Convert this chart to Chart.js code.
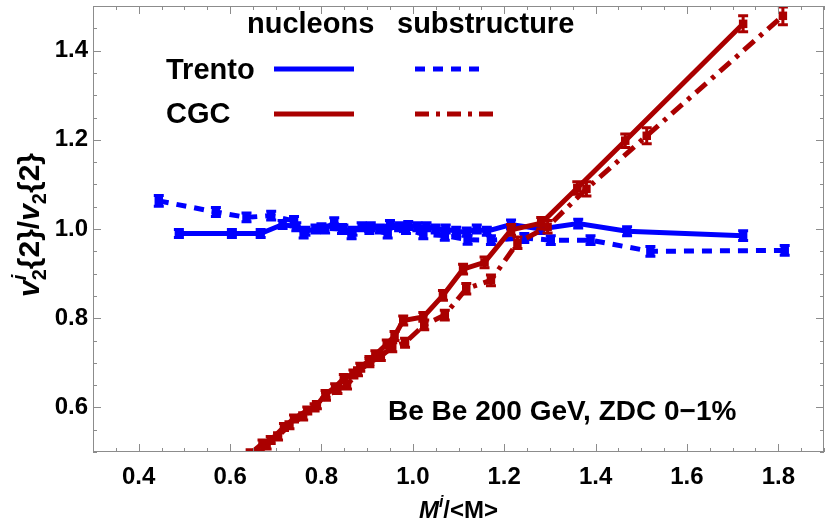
<!DOCTYPE html>
<html><head><meta charset="utf-8">
<script src="https://cdn.jsdelivr.net/npm/chart.js@4/dist/chart.umd.min.js"></script>
<style>html,body{margin:0;padding:0;background:#fff}#wrap{width:830px;height:527px}</style>
</head><body><div id="wrap"><canvas id="c" width="830" height="527"></canvas></div>
<script>
// ---- data ----
const trentoNucX = [0.488,0.604,0.667,0.715,0.745,0.765,0.787,0.808,0.828,0.848,0.868,0.888,0.908,0.928,0.950,0.970,0.990,1.010,1.030,1.050,1.072,1.095,1.118,1.140,1.162,1.215,1.280,1.362,1.469,1.723];
const trentoNucY = [0.990,0.990,0.990,1.010,1.005,0.995,1.000,1.000,1.015,1.000,0.995,1.005,1.005,1.000,1.010,1.005,1.008,1.005,1.005,1.000,1.000,0.995,0.993,1.000,0.995,1.010,1.000,1.012,0.995,0.985];
const trentoNucErr = [0.009,0.009,0.009,0.009,0.009,0.009,0.009,0.009,0.010,0.009,0.009,0.009,0.009,0.009,0.009,0.009,0.009,0.009,0.009,0.009,0.009,0.009,0.009,0.009,0.009,0.010,0.010,0.010,0.010,0.011];

const trentoSubX = [0.444,0.569,0.636,0.690,0.740,0.761,0.800,0.845,0.866,0.905,0.945,0.985,1.023,1.070,1.120,1.171,1.244,1.302,1.389,1.520,1.814];
const trentoSubY = [1.063,1.038,1.026,1.030,1.018,0.990,1.002,1.000,0.988,1.000,0.990,1.000,0.988,0.985,0.976,0.975,0.980,0.975,0.975,0.950,0.952];
const trentoSubErr = [0.012,0.010,0.010,0.010,0.010,0.010,0.010,0.010,0.010,0.010,0.010,0.010,0.010,0.010,0.010,0.010,0.010,0.010,0.010,0.011,0.011];

const cgcNucX = [0.645,0.671,0.689,0.718,0.740,0.769,0.790,0.809,0.830,0.849,0.870,0.885,0.905,0.918,0.943,0.960,0.979,1.023,1.066,1.110,1.157,1.215,1.281,1.360,1.465,1.723];
const cgcNucY = [0.497,0.519,0.527,0.556,0.575,0.593,0.605,0.630,0.645,0.665,0.675,0.690,0.705,0.718,0.742,0.760,0.795,0.803,0.851,0.910,0.925,0.998,1.013,1.092,1.198,1.460];
const cgcNucErr = [0.008,0.008,0.008,0.008,0.008,0.008,0.008,0.008,0.008,0.009,0.009,0.009,0.009,0.009,0.009,0.010,0.010,0.010,0.011,0.011,0.012,0.012,0.013,0.014,0.015,0.018];

const cgcSubX = [0.660,0.680,0.705,0.730,0.760,0.785,0.810,0.835,0.856,0.880,0.905,0.930,0.955,0.983,1.025,1.070,1.117,1.171,1.229,1.295,1.380,1.512,1.810];
const cgcSubY = [0.495,0.515,0.535,0.560,0.580,0.600,0.625,0.640,0.650,0.680,0.700,0.715,0.735,0.745,0.785,0.807,0.866,0.885,0.969,1.005,1.090,1.209,1.478];
const cgcSubErr = [0.008,0.008,0.008,0.008,0.008,0.008,0.009,0.009,0.009,0.009,0.009,0.010,0.010,0.010,0.011,0.011,0.012,0.012,0.013,0.014,0.016,0.018,0.020];

const xTickLabels = [0.4,0.6,0.8,1.0,1.2,1.4,1.6,1.8];
const yTickLabels = [0.6,0.8,1.0,1.2,1.4];
const legendHeaders = ["nucleons","substructure"];
const legendRows = ["Trento","CGC"];
const annotationText = "Be Be 200 GeV, ZDC 0\u22121%";

// ---- styling ----
const BLUE = "rgb(0,0,255)";
const RED = "rgb(170,0,0)";
const FRAME = "#8c8c8c";
const FONT = "'Liberation Sans', Arial, sans-serif";

function pts(xs, ys){ return xs.map((x,i)=>({x:x, y:ys[i]})); }

function ds(label, xs, ys, errs, color, dash){
  return {label, data: pts(xs,ys), errors: errs, borderColor: color, backgroundColor: color,
    borderWidth: 5, borderDash: dash, borderCapStyle: 'butt', pointStyle: 'rect', pointRadius: 6,
    pointBorderWidth: 0, pointBackgroundColor: color, showLine: true, tension: 0, clip: 0, fill:false};
}

const errorBars = {
  id: 'errorBars',
  afterDatasetDraw(chart, args){
    const d = chart.data.datasets[args.index];
    if(!d.errors) return;
    const ctx = chart.ctx, xs = chart.scales.x, ys = chart.scales.y, a = chart.chartArea;
    ctx.save();
    ctx.beginPath(); ctx.rect(a.left, a.top, a.right-a.left, a.bottom-a.top); ctx.clip();
    ctx.strokeStyle = d.borderColor; ctx.lineWidth = 3; ctx.setLineDash([]);
    d.data.forEach((p,i)=>{
      const px = xs.getPixelForValue(p.x);
      const y1 = ys.getPixelForValue(p.y - d.errors[i]);
      const y2 = ys.getPixelForValue(p.y + d.errors[i]);
      ctx.beginPath();
      ctx.moveTo(px, y1); ctx.lineTo(px, y2);
      ctx.moveTo(px-5, y1); ctx.lineTo(px+5, y1);
      ctx.moveTo(px-5, y2); ctx.lineTo(px+5, y2);
      ctx.stroke();
    });
    ctx.restore();
  }
};

function drawRich(ctx, segs, startX, baseY){
  let x = startX;
  let prevW = 0;
  segs.forEach(s=>{
    ctx.font = s.font;
    const w = ctx.measureText(s.t).width;
    if(s.stack){ ctx.fillText(s.t, x - prevW, baseY + (s.dy||0)); x = x - prevW + Math.max(prevW,w); prevW = Math.max(prevW, w); return; }
    ctx.fillText(s.t, x, baseY + (s.dy||0));
    x += w; prevW = w;
  });
  return x - startX;
}
function richWidth(ctx, segs){
  let x = 0, prevW = 0;
  segs.forEach(s=>{ ctx.font = s.font; const w = ctx.measureText(s.t).width;
    if(s.stack){ x = x - prevW + Math.max(prevW,w); prevW = Math.max(prevW,w); return; }
    x += w; prevW = w; });
  return x;
}

const frameAndText = {
  id: 'frameAndText',
  afterDraw(chart){
    const ctx = chart.ctx, a = chart.chartArea, xs = chart.scales.x, ys = chart.scales.y;
    ctx.save();
    // frame
    ctx.strokeStyle = FRAME; ctx.lineWidth = 1; ctx.setLineDash([]);
    ctx.strokeRect(a.left+0.5, a.top+0.5, a.right-a.left-1, a.bottom-a.top-1);
    // ticks
    ctx.beginPath();
    for(let k=6; k<=38; k++){
      const v = k*0.05; if(v < xs.min-1e-9 || v > xs.max+1e-9) continue;
      const major = xTickLabels.some(t=>Math.abs(t-v)<1e-6);
      const L = major ? 8 : 4;
      const px = Math.round(xs.getPixelForValue(v)) + 0.5;
      ctx.moveTo(px, a.bottom); ctx.lineTo(px, a.bottom - L);
      ctx.moveTo(px, a.top); ctx.lineTo(px, a.top + L);
    }
    for(let k=10; k<=30; k++){
      const v = k*0.05; if(v < ys.min-1e-9 || v > ys.max+1e-9) continue;
      const major = yTickLabels.some(t=>Math.abs(t-v)<1e-6);
      const L = major ? 8 : 4;
      const py = Math.round(ys.getPixelForValue(v)) + 0.5;
      ctx.moveTo(a.left, py); ctx.lineTo(a.left + L, py);
      ctx.moveTo(a.right, py); ctx.lineTo(a.right - L, py);
    }
    ctx.stroke();

    ctx.fillStyle = '#000';
    ctx.textBaseline = 'alphabetic';
    ctx.textAlign = 'left';
    // legend
    ctx.font = `bold 29px ${FONT}`;
    ctx.fillText(legendHeaders[0], 247, 33);
    ctx.fillText(legendHeaders[1], 397, 33);
    ctx.fillText(legendRows[0], 166, 79);
    ctx.fillText(legendRows[1], 166, 123);
    ctx.lineWidth = 5; ctx.lineCap = 'butt';
    const rows = [[69, BLUE, [10,8], 487], [114, RED, [14,7,4,7], 497]];
    rows.forEach(r=>{
      ctx.strokeStyle = r[1];
      ctx.setLineDash([]);
      ctx.beginPath(); ctx.moveTo(274, r[0]); ctx.lineTo(354, r[0]); ctx.stroke();
      ctx.setLineDash(r[2]);
      ctx.beginPath(); ctx.moveTo(415, r[0]); ctx.lineTo(r[3], r[0]); ctx.stroke();
    });
    ctx.setLineDash([]);
    // annotation
    ctx.fillStyle = '#000';
    ctx.font = `bold 28px ${FONT}`;
    ctx.fillText(annotationText, 388, 420);

    // x title
    const xt = [
      {t:'M', font:`italic bold 24px ${FONT}`},
      {t:'i', font:`italic bold 16px ${FONT}`, dy:-11},
      {t:'/<M>', font:`bold 24px ${FONT}`}
    ];
    const xw = richWidth(ctx, xt);
    drawRich(ctx, xt, (a.left+a.right)/2 - xw/2, 518);

    // y title (rotated)
    const yt = [
      {t:'v', font:`italic bold 30px ${FONT}`},
      {t:'2', font:`bold 20px ${FONT}`, dy:7},
      {t:'i', font:`italic bold 20px ${FONT}`, dy:-13, stack:true},
      {t:'{2}/', font:`bold 30px ${FONT}`},
      {t:'v', font:`italic bold 30px ${FONT}`},
      {t:'2', font:`bold 20px ${FONT}`, dy:7},
      {t:'{2}', font:`bold 30px ${FONT}`}
    ];
    ctx.save();
    ctx.translate(39, 225);
    ctx.rotate(-Math.PI/2);
    const yw = richWidth(ctx, yt);
    drawRich(ctx, yt, -yw/2, 0);
    ctx.restore();

    ctx.restore();
  }
};

new Chart(document.getElementById('c'), {
  type: 'scatter',
  data: { datasets: [
    ds('CGC nucleons', cgcNucX, cgcNucY, cgcNucErr, RED, []),
    ds('CGC substructure', cgcSubX, cgcSubY, cgcSubErr, RED, [14,7,4,7]),
    ds('Trento nucleons', trentoNucX, trentoNucY, trentoNucErr, BLUE, []),
    ds('Trento substructure', trentoSubX, trentoSubY, trentoSubErr, BLUE, [10,8])
  ]},
  options: {
    responsive: false, animation: false, devicePixelRatio: 1,
    layout: { padding: {left:0, right:2, top:0, bottom:0} },
    plugins: { legend: {display:false}, tooltip: {enabled:false}, title:{display:false} },
    scales: {
      x: { type:'linear', min:0.3, max:1.9,
        grid:{display:false, drawTicks:false}, border:{display:false},
        afterBuildTicks: s => { s.ticks = xTickLabels.map(v=>({value:v})); },
        afterFit: s => { s.height = 75; s.paddingLeft = 0; s.paddingRight = 0; },
        ticks:{ autoSkip:false, maxRotation:0, padding:11, color:'#000',
          font:{family:FONT, size:24, weight:'bold'}, callback: v => v.toFixed(1) } },
      y: { type:'linear', min:0.5, max:1.5,
        grid:{display:false, drawTicks:false}, border:{display:false},
        afterBuildTicks: s => { s.ticks = yTickLabels.map(v=>({value:v})); },
        afterFit: s => { s.width = 93; s.paddingTop = 0; s.paddingBottom = 0; },
        ticks:{ autoSkip:false, padding:5, color:'#000',
          font:{family:FONT, size:24, weight:'bold'}, callback: v => v.toFixed(1) } }
    }
  },
  plugins: [errorBars, frameAndText]
});
</script>
</body></html>
